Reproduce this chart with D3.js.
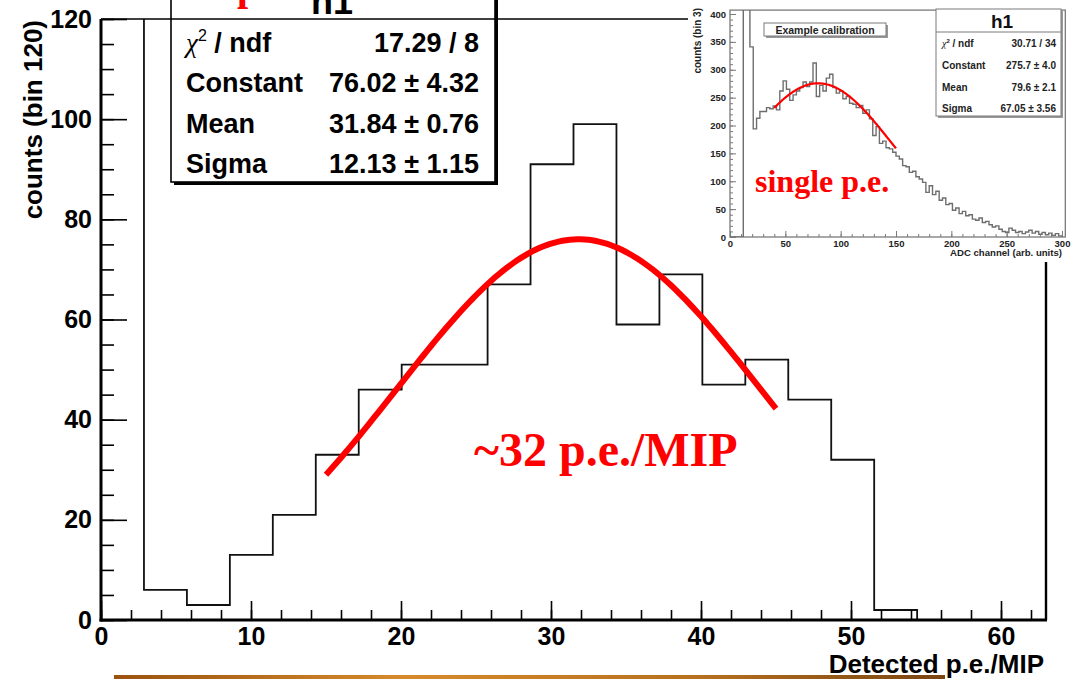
<!DOCTYPE html>
<html>
<head>
<meta charset="utf-8">
<script src="https://cdn.jsdelivr.net/npm/d3@7"></script>
<style>
body { margin: 0; background: #fff; }
svg { display: block; }
</style>
</head>
<body>
<div id="container"></div>
<script>
// ---- main histogram: detected p.e. per MIP (22 bins over 0..63) ----
const mainCounts = [400, 6, 3, 13, 21, 33, 46, 51, 51, 67, 91, 99, 59, 69, 47, 52, 44, 32, 2, 0, 0, 0];
const mainRange = [0, 63];
const mainFit = { constant: 76.02, mean: 31.84, sigma: 12.13, from: 15, to: 45 };
const mainStatNames = ["Constant", "Mean", "Sigma"];
const mainStatValues = ["76.02 \u00b1 4.32", "31.84 \u00b1 0.76", "12.13 \u00b1 1.15"];
const mainChi = "17.29 / 8";
const mainXTicks = [0, 10, 20, 30, 40, 50, 60];
const mainYTicks = [0, 20, 40, 60, 80, 100, 120];

// ---- inset: single p.e. calibration, 3 ADC channels per bin from 0 ----
const insetCounts = [0, 0, 0, 0, 2000, 2000, 341, 194, 213, 225,
  225, 232, 230, 235, 228, 262, 280, 265, 245, 255,
  262, 268, 278, 270, 278, 312, 252, 272, 262, 285,
  292, 268, 258, 262, 248, 252, 240, 238, 232, 236,
  222, 228, 212, 182, 198, 168, 172, 160, 158, 152,
  145, 140, 128, 126, 116, 118, 108, 104, 98, 80,
  92, 76, 82, 66, 70, 58, 60, 48, 52, 42,
  46, 38, 40, 32, 30, 34, 26, 28, 22, 18,
  20, 14, 10, 8, 16, 12, 8, 10, 6, 9,
  12, 7, 10, 5, 8, 4, 7, 3, 6, 2];
const insetBinWidth = 3;
const insetFit = { constant: 275.7, mean: 79.6, sigma: 67.05, from: 40, to: 150 };
const insetStatNames = ["Constant", "Mean", "Sigma"];
const insetStatValues = ["275.7 \u00b1 4.0", "79.6 \u00b1 2.1", "67.05 \u00b1 3.56"];
const insetChi = "30.71 / 34";
const insetXTicks = [0, 50, 100, 150, 200, 250, 300];
const insetYTicks = [0, 50, 100, 150, 200, 250, 300, 350, 400];

const W = 1078, H = 679;
const sans = "'Liberation Sans', Arial, sans-serif";
const serif = "'Liberation Serif', 'Times New Roman', serif";

const svg = d3.select("#container").append("svg")
    .attr("width", W).attr("height", H)
    .attr("viewBox", [0, 0, W, H]);

const defs = svg.append("defs");

// main scales
const x = d3.scaleLinear().domain([0, 63]).range([101, 1046]);
const y = d3.scaleLinear().domain([0, 120]).range([620, 19]);

defs.append("clipPath").attr("id", "mainClip").append("rect")
    .attr("x", x(0)).attr("y", y(120)).attr("width", x(63) - x(0)).attr("height", y(0) - y(120));

function gauss(f, v) {
    return f.constant * Math.exp(-0.5 * ((v - f.mean) / f.sigma) ** 2);
}

function histPoints(counts, lo, width) {
    const pts = [[lo, 0]];
    counts.forEach((c, i) => {
        pts.push([lo + i * width, c]);
        pts.push([lo + (i + 1) * width, c]);
    });
    pts.push([lo + counts.length * width, 0]);
    return pts;
}

// ---- main frame ----
const frame = svg.append("g");
frame.append("line").attr("x1", x(0)).attr("x2", x(63)).attr("y1", y(120)).attr("y2", y(120))
    .attr("stroke", "#000").attr("stroke-width", 1.6);
frame.append("line").attr("x1", x(63)).attr("x2", x(63)).attr("y1", y(120)).attr("y2", y(0))
    .attr("stroke", "#000").attr("stroke-width", 2.4);

// histogram
const mainW = (mainRange[1] - mainRange[0]) / mainCounts.length;
svg.append("path")
    .attr("clip-path", "url(#mainClip)")
    .attr("d", d3.line().x(d => x(d[0])).y(d => y(d[1]))(histPoints(mainCounts, mainRange[0], mainW)))
    .attr("fill", "none").attr("stroke", "#111").attr("stroke-width", 1.8);

// axes
function styleAxis(g) {
    g.select(".domain").remove();
    g.selectAll(".tick line").attr("stroke", "#000").attr("stroke-width", 1.6);
}
svg.append("g").attr("transform", `translate(${x(0)},0)`)
    .call(d3.axisLeft(y).tickValues(d3.range(0, 121, 5)).tickSize(-13).tickFormat(""))
    .call(styleAxis);
svg.append("g").attr("transform", `translate(${x(0)},0)`)
    .call(d3.axisLeft(y).tickValues(mainYTicks).tickSize(-26).tickPadding(9))
    .call(styleAxis)
    .call(g => g.selectAll("text").attr("font-family", sans).attr("font-weight", "bold")
        .attr("font-size", 25).attr("fill", "#000"));
svg.append("g").attr("transform", `translate(0,${y(0)})`)
    .call(d3.axisBottom(x).tickValues(d3.range(0, 63, 2)).tickSize(-10).tickFormat(""))
    .call(styleAxis);
svg.append("g").attr("transform", `translate(0,${y(0)})`)
    .call(d3.axisBottom(x).tickValues(mainXTicks).tickSize(-19).tickPadding(7))
    .call(styleAxis)
    .call(g => g.selectAll("text").attr("font-family", sans).attr("font-weight", "bold")
        .attr("font-size", 25).attr("fill", "#000"));

// axis lines (thick)
frame.raise();
svg.append("line").attr("x1", x(0)).attr("x2", x(0)).attr("y1", y(120)).attr("y2", y(0) + 1.5)
    .attr("stroke", "#000").attr("stroke-width", 3);
svg.append("line").attr("x1", x(0) - 1.5).attr("x2", x(63) + 1).attr("y1", y(0)).attr("y2", y(0))
    .attr("stroke", "#000").attr("stroke-width", 3);

// axis titles
svg.append("text")
    .attr("transform", `translate(42,${y(120) + 1}) rotate(-90)`)
    .attr("text-anchor", "end")
    .attr("font-family", sans).attr("font-weight", "bold").attr("font-size", 26)
    .text("counts (bin 120)");
svg.append("text")
    .attr("x", 1044).attr("y", 673)
    .attr("text-anchor", "end")
    .attr("font-family", sans).attr("font-weight", "bold").attr("font-size", 26)
    .text("Detected p.e./MIP");

// fit curve
svg.append("path")
    .datum(d3.range(mainFit.from, mainFit.to + 0.001, 0.25))
    .attr("d", d3.line().x(d => x(d)).y(d => y(gauss(mainFit, d))))
    .attr("fill", "none").attr("stroke", "#f00").attr("stroke-width", 6)
    .attr("stroke-linecap", "butt");

// stats box (main)
const sb = svg.append("g");
sb.append("rect").attr("x", 174).attr("y", -17).attr("width", 324).attr("height", 202).attr("fill", "#000");
sb.append("rect").attr("x", 171).attr("y", -20).attr("width", 324).attr("height", 202)
    .attr("fill", "#fff").attr("stroke", "#000").attr("stroke-width", 1.6);
sb.append("line").attr("x1", 171).attr("x2", 495).attr("y1", y(120)).attr("y2", y(120))
    .attr("stroke", "#000").attr("stroke-width", 1.6);
sb.append("text").attr("x", 332).attr("y", 14).attr("text-anchor", "middle")
    .attr("font-family", sans).attr("font-weight", "bold").attr("font-size", 36).text("h1");
const rowsY = [52, 92, 133, 173];
const chiT = sb.append("text").attr("x", 186).attr("y", rowsY[0])
    .attr("font-family", sans).attr("font-weight", "bold").attr("font-size", 27);
chiT.append("tspan").attr("font-family", serif).attr("font-style", "italic").attr("font-weight", "normal").text("\u03c7");
chiT.append("tspan").attr("dy", -11).attr("font-size", 16).attr("font-weight", "normal").text("2");
chiT.append("tspan").attr("dy", 11).text(" / ndf");
sb.append("text").attr("x", 479).attr("y", rowsY[0]).attr("text-anchor", "end")
    .attr("font-family", sans).attr("font-weight", "bold").attr("font-size", 27).text(mainChi);
mainStatNames.forEach((n, i) => {
    sb.append("text").attr("x", 186).attr("y", rowsY[i + 1])
        .attr("font-family", sans).attr("font-weight", "bold").attr("font-size", 27).text(n);
    sb.append("text").attr("x", 479).attr("y", rowsY[i + 1]).attr("text-anchor", "end")
        .attr("font-family", sans).attr("font-weight", "bold").attr("font-size", 27).text(mainStatValues[i]);
});

// red annotations
svg.append("text").attr("x", 237).attr("y", 0)
    .attr("font-family", serif).attr("font-weight", "bold").attr("font-size", 40).attr("fill", "#f00").text("p");
svg.append("text").attr("x", 474).attr("y", 466)
    .attr("font-family", serif).attr("font-weight", "bold").attr("font-size", 48).attr("fill", "#f00")
    .text("~32 p.e./MIP");

// bottom decoration bar
const grad = defs.append("linearGradient").attr("id", "bar").attr("x1", "0%").attr("x2", "100%");
grad.append("stop").attr("offset", "0%").attr("stop-color", "#9a520e");
grad.append("stop").attr("offset", "35%").attr("stop-color", "#d78a2c");
grad.append("stop").attr("offset", "70%").attr("stop-color", "#b8701e");
grad.append("stop").attr("offset", "100%").attr("stop-color", "#7a4512");
svg.append("rect").attr("x", 114).attr("y", 675).attr("width", 831).attr("height", 4).attr("fill", "url(#bar)");

// ---- inset ----
const inset = svg.append("g");
inset.append("rect").attr("x", 688).attr("y", 0).attr("width", W - 688).attr("height", 262).attr("fill", "#fff");

const xi = d3.scaleLinear().domain([0, 300]).range([730, 1062]);
const yi = d3.scaleLinear().domain([0, 400]).range([237, 14]);
const insetTop = yi(407), insetRight = xi(303);
const grey = "#7a7a7a", ink = "#222";

defs.append("clipPath").attr("id", "insetClip").append("rect")
    .attr("x", xi(0)).attr("y", insetTop).attr("width", insetRight - xi(0)).attr("height", yi(0) - insetTop);

inset.append("rect").attr("x", xi(0)).attr("y", insetTop).attr("width", insetRight - xi(0)).attr("height", yi(0) - insetTop)
    .attr("fill", "none").attr("stroke", grey).attr("stroke-width", 1.3);

function styleInset(g) {
    g.select(".domain").remove();
    g.selectAll(".tick line").attr("stroke", grey).attr("stroke-width", 1);
    g.selectAll("text").attr("font-family", sans).attr("font-weight", "bold").attr("font-size", 9.5).attr("fill", ink);
}
inset.append("g").attr("transform", `translate(${xi(0)},0)`)
    .call(d3.axisLeft(yi).tickValues(d3.range(0, 401, 10)).tickSize(-3).tickFormat("")).call(styleInset);
inset.append("g").attr("transform", `translate(${xi(0)},0)`)
    .call(d3.axisLeft(yi).tickValues(insetYTicks).tickSize(-6).tickPadding(4)).call(styleInset);
inset.append("g").attr("transform", `translate(0,${yi(0)})`)
    .call(d3.axisBottom(xi).tickValues(d3.range(0, 301, 10)).tickSize(-3).tickFormat("")).call(styleInset);
inset.append("g").attr("transform", `translate(0,${yi(0)})`)
    .call(d3.axisBottom(xi).tickValues(insetXTicks).tickSize(-6).tickPadding(3)).call(styleInset);

inset.append("path")
    .attr("clip-path", "url(#insetClip)")
    .attr("d", d3.line().x(d => xi(d[0])).y(d => yi(d[1]))(histPoints(insetCounts, 0, insetBinWidth)))
    .attr("fill", "none").attr("stroke", "#6e6e6e").attr("stroke-width", 1.4);

inset.append("path")
    .datum(d3.range(insetFit.from, insetFit.to + 0.001, 1))
    .attr("d", d3.line().x(d => xi(d)).y(d => yi(gauss(insetFit, d))))
    .attr("fill", "none").attr("stroke", "#f00").attr("stroke-width", 2.2);

inset.append("text")
    .attr("transform", `translate(701,8) rotate(-90)`)
    .attr("text-anchor", "end")
    .attr("font-family", sans).attr("font-weight", "bold").attr("font-size", 10).attr("fill", ink)
    .text("counts (bin 3)");
inset.append("text").attr("x", 1062).attr("y", 256).attr("text-anchor", "end")
    .attr("font-family", sans).attr("font-weight", "bold").attr("font-size", 9.6).attr("fill", ink)
    .text("ADC channel (arb. units)");

// legend box
inset.append("rect").attr("x", 766).attr("y", 25).attr("width", 122).attr("height", 13).attr("fill", "#999");
inset.append("rect").attr("x", 764).attr("y", 23).attr("width", 122).attr("height", 13)
    .attr("fill", "#fff").attr("stroke", grey).attr("stroke-width", 1);
inset.append("text").attr("x", 825).attr("y", 33.5).attr("text-anchor", "middle")
    .attr("font-family", sans).attr("font-weight", "bold").attr("font-size", 10.5).attr("fill", ink)
    .text("Example calibration");

// inset stats box
inset.append("rect").attr("x", 938).attr("y", 11).attr("width", 125).attr("height", 107).attr("fill", "#999");
inset.append("rect").attr("x", 936).attr("y", 9).attr("width", 125).attr("height", 107)
    .attr("fill", "#fff").attr("stroke", grey).attr("stroke-width", 1);
inset.append("line").attr("x1", 936).attr("x2", 1061).attr("y1", 32).attr("y2", 32)
    .attr("stroke", grey).attr("stroke-width", 1);
inset.append("text").attr("x", 1002).attr("y", 28).attr("text-anchor", "middle")
    .attr("font-family", sans).attr("font-weight", "bold").attr("font-size", 19).attr("fill", "#111").text("h1");
const iRows = [47, 69, 91, 112];
const iChi = inset.append("text").attr("x", 942).attr("y", iRows[0])
    .attr("font-family", sans).attr("font-weight", "bold").attr("font-size", 10).attr("fill", ink);
iChi.append("tspan").attr("font-family", serif).attr("font-style", "italic").attr("font-weight", "normal").text("\u03c7");
iChi.append("tspan").attr("dy", -4).attr("font-size", 6).text("2");
iChi.append("tspan").attr("dy", 4).text(" / ndf");
inset.append("text").attr("x", 1056).attr("y", iRows[0]).attr("text-anchor", "end")
    .attr("font-family", sans).attr("font-weight", "bold").attr("font-size", 10).attr("fill", ink).text(insetChi);
insetStatNames.forEach((n, i) => {
    inset.append("text").attr("x", 942).attr("y", iRows[i + 1])
        .attr("font-family", sans).attr("font-weight", "bold").attr("font-size", 10).attr("fill", ink).text(n);
    inset.append("text").attr("x", 1056).attr("y", iRows[i + 1]).attr("text-anchor", "end")
        .attr("font-family", sans).attr("font-weight", "bold").attr("font-size", 10).attr("fill", ink).text(insetStatValues[i]);
});

inset.append("text").attr("x", 755).attr("y", 192)
    .attr("font-family", serif).attr("font-weight", "bold").attr("font-size", 32).attr("fill", "#f00")
    .text("single p.e.");
</script>
</body>
</html>
